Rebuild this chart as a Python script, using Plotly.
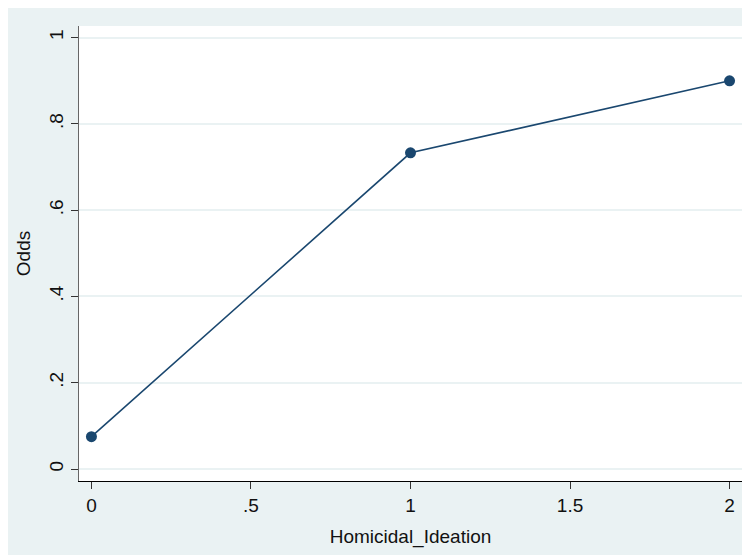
import plotly.graph_objects as go

x_vals = [0, 1, 2]
odds = [0.075, 0.733, 0.9]
x_ticks = [0, 0.5, 1, 1.5, 2]
x_tick_labels = ["0", ".5", "1", "1.5", "2"]
y_ticks = [0, 0.2, 0.4, 0.6, 0.8, 1]
y_tick_labels = ["0", ".2", ".4", ".6", ".8", "1"]

BG = "#EAF2F3"
NAVY = "#1a476f"
FONT = "Liberation Sans, Arial, sans-serif"

fig = go.Figure()
fig.add_trace(go.Scatter(
    x=x_vals, y=odds, mode="lines+markers",
    line=dict(color=NAVY, width=1.6),
    marker=dict(color=NAVY, size=11),
    showlegend=False, hoverinfo="skip",
))

fig.update_layout(
    width=742, height=547,
    margin=dict(l=71, r=8, t=18, b=74),
    paper_bgcolor=BG, plot_bgcolor="white",
    font=dict(family=FONT, size=19, color="#111"),
    xaxis=dict(
        range=[-0.039, 2.039], tickvals=x_ticks, ticktext=x_tick_labels,
        tickfont=dict(size=19),
        showgrid=False, zeroline=False, automargin=False,
        showline=True, linecolor="#000", linewidth=1,
        ticks="outside", ticklen=7, tickcolor="#333", tickwidth=1,
        title=dict(text="Homicidal_Ideation", standoff=14, font=dict(size=19)),
    ),
    yaxis=dict(
        range=[-0.0278, 1.027], tickvals=y_ticks, ticktext=y_tick_labels,
        tickangle=-90, automargin=False, tickfont=dict(size=19),
        showgrid=True, gridcolor=BG, gridwidth=1.5, zeroline=False,
        showline=True, linecolor="#666", linewidth=1,
        ticks="outside", ticklen=7, tickcolor="#333", tickwidth=1,
        title=dict(text="Odds", standoff=10, font=dict(size=19)),
    ),
)

fig.write_html("out.html")
